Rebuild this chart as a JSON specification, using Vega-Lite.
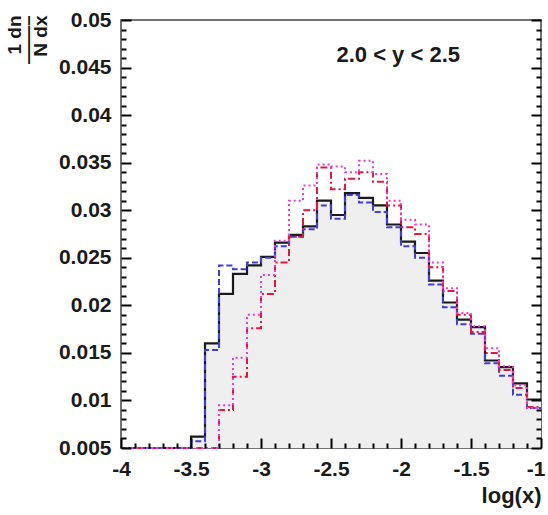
{
  "$schema": "https://vega.github.io/schema/vega-lite/v6.json",
  "width": 420,
  "height": 428,
  "autosize": {"type": "none"},
  "padding": {"left": 121, "top": 20, "right": 7, "bottom": 67},
  "background": "white",
  "config": {
    "view": {"stroke": "#444", "strokeWidth": 1.5},
    "font": "Liberation Sans",
    "axis": {"grid": false, "domain": false, "labelFont": "Liberation Sans", "labelFontSize": 21, "labelFontWeight": "bold", "labelColor": "#1a1a1a", "labelOverlap": false, "labelFlush": false}
  },
  "datasets": {
    "h": [
      {"x": -4.0, "k": 0.005, "b": 0.005, "r": 0.005, "m": 0.005},
      {"x": -3.9, "k": 0.005, "b": 0.005, "r": 0.005, "m": 0.005},
      {"x": -3.8, "k": 0.005, "b": 0.005, "r": 0.005, "m": 0.005},
      {"x": -3.7, "k": 0.005, "b": 0.005, "r": 0.005, "m": 0.005},
      {"x": -3.6, "k": 0.005, "b": 0.005, "r": 0.005, "m": 0.005},
      {"x": -3.5, "k": 0.0062, "b": 0.0057, "r": 0.005, "m": 0.005},
      {"x": -3.4, "k": 0.0160, "b": 0.0153, "r": 0.005, "m": 0.005},
      {"x": -3.3, "k": 0.0212, "b": 0.0242, "r": 0.0090, "m": 0.0095},
      {"x": -3.2, "k": 0.0233, "b": 0.0238, "r": 0.0125, "m": 0.0145},
      {"x": -3.1, "k": 0.0242, "b": 0.0245, "r": 0.0176, "m": 0.0190},
      {"x": -3.0, "k": 0.0251, "b": 0.0250, "r": 0.0212, "m": 0.0232},
      {"x": -2.9, "k": 0.0266, "b": 0.0262, "r": 0.0245, "m": 0.0268},
      {"x": -2.8, "k": 0.0274, "b": 0.0272, "r": 0.0272, "m": 0.0310},
      {"x": -2.7, "k": 0.0283, "b": 0.0280, "r": 0.0300, "m": 0.0326},
      {"x": -2.6, "k": 0.0310, "b": 0.0305, "r": 0.0345, "m": 0.0348},
      {"x": -2.5, "k": 0.0295, "b": 0.0291, "r": 0.0322, "m": 0.0346},
      {"x": -2.4, "k": 0.0318, "b": 0.0316, "r": 0.0333, "m": 0.0340},
      {"x": -2.3, "k": 0.0313, "b": 0.0308, "r": 0.0340, "m": 0.0352},
      {"x": -2.2, "k": 0.0305, "b": 0.0298, "r": 0.0330, "m": 0.0338},
      {"x": -2.1, "k": 0.0285, "b": 0.0282, "r": 0.0305, "m": 0.0310},
      {"x": -2.0, "k": 0.0267, "b": 0.0262, "r": 0.0282, "m": 0.0290},
      {"x": -1.9, "k": 0.0255, "b": 0.0250, "r": 0.0275, "m": 0.0285},
      {"x": -1.8, "k": 0.0226, "b": 0.0222, "r": 0.0240, "m": 0.0245},
      {"x": -1.7, "k": 0.0203, "b": 0.0198, "r": 0.0215, "m": 0.0218},
      {"x": -1.6, "k": 0.0185, "b": 0.0180, "r": 0.0190, "m": 0.0192},
      {"x": -1.5, "k": 0.0177, "b": 0.0170, "r": 0.0172, "m": 0.0178},
      {"x": -1.4, "k": 0.0142, "b": 0.0139, "r": 0.0150, "m": 0.0155},
      {"x": -1.3, "k": 0.0135, "b": 0.0126, "r": 0.0132, "m": 0.0136},
      {"x": -1.2, "k": 0.0118, "b": 0.0106, "r": 0.0113, "m": 0.0116},
      {"x": -1.1, "k": 0.0101, "b": 0.0092, "r": 0.0093, "m": 0.0092},
      {"x": -1.0, "k": 0.0101, "b": 0.0092, "r": 0.0093, "m": 0.0092}
    ]
  },
  "resolve": {"axis": {"x": "independent", "y": "independent"}},
  "layer": [
    {
      "data": {"name": "h"},
      "mark": {"type": "area", "interpolate": "step-after", "color": "#efefef"},
      "encoding": {
        "x": {"field": "x", "type": "quantitative",
          "scale": {"domain": [-4, -1], "nice": false, "zero": false},
          "axis": {
            "orient": "bottom", "zindex": 2,
            "values": [-4, -3.5, -3, -2.5, -2, -1.5, -1],
            "tickColor": "black", "tickWidth": 2,
            "offset": -10, "tickSize": 10,
            "labelPadding": 10,
            "labelExpr": "(datum.value < 0 ? '-' : '') + format(abs(datum.value), '~g')",
            "labelAlign": {"condition": {"test": "datum.value > -1.05", "value": "right"}, "value": "center"},
            "labelOffset": {"condition": {"test": "datum.value > -1.05", "value": 4}, "value": 0},
            "title": "log(x)", "titleAnchor": "end", "titleFont": "Liberation Sans", "titleColor": "#1a1a1a", "titleFontSize": 22, "titleFontWeight": "bold", "titlePadding": 6
          }},
        "y": {"field": "k", "type": "quantitative",
          "scale": {"domain": [0.005, 0.05], "nice": false, "zero": false},
          "axis": {
            "orient": "left", "zindex": 2,
            "values": [0.005, 0.01, 0.015, 0.02, 0.025, 0.03, 0.035, 0.04, 0.045, 0.05],
            "tickColor": "black", "tickWidth": 2,
            "offset": -10, "tickSize": 10,
            "labelPadding": 10,
            "labelExpr": "format(datum.value, '.3~f')",
            "title": ["1 dn", "——–", "N dx"],
            "titleFont": "Liberation Sans", "titleColor": "#1a1a1a",
            "titleFontSize": 19, "titleFontWeight": "bold", "titleLineHeight": 13,
            "titleAngle": 270, "titleAlign": "right", "titleBaseline": "middle",
            "titleX": -117, "titleY": -5
          }},
        "y2": {"datum": 0.005}
      }
    },
    {
      "data": {"name": "h"},
      "mark": {"type": "line", "interpolate": "step-after", "color": "#1a1a1a", "strokeWidth": 2.2},
      "encoding": {
        "x": {"field": "x", "type": "quantitative",
          "axis": {
            "orient": "bottom", "zindex": 2,
            "values": [-3.9, -3.8, -3.7, -3.6, -3.4, -3.3, -3.2, -3.1, -2.9, -2.8, -2.7, -2.6, -2.4, -2.3, -2.2, -2.1, -1.9, -1.8, -1.7, -1.6, -1.4, -1.3, -1.2, -1.1],
            "tickColor": "black", "tickWidth": 2,
            "offset": -5, "tickSize": 5, "labels": false, "title": null
          }},
        "y": {"field": "k", "type": "quantitative",
          "axis": {
            "orient": "left", "zindex": 2,
            "values": [0.006, 0.007, 0.008, 0.009, 0.011, 0.012, 0.013, 0.014, 0.016, 0.017, 0.018, 0.019, 0.021, 0.022, 0.023, 0.024, 0.026, 0.027, 0.028, 0.029, 0.031, 0.032, 0.033, 0.034, 0.036, 0.037, 0.038, 0.039, 0.041, 0.042, 0.043, 0.044, 0.046, 0.047, 0.048, 0.049],
            "tickColor": "black", "tickWidth": 2,
            "offset": -5, "tickSize": 5, "labels": false, "title": null
          }}
      }
    },
    {
      "data": {"name": "h"},
      "mark": {"type": "line", "interpolate": "step-after", "color": "#3f3fd2", "strokeWidth": 2, "strokeDash": [6, 3]},
      "encoding": {
        "x": {"field": "x", "type": "quantitative", "axis": null},
        "y": {"field": "b", "type": "quantitative",
          "axis": {
            "orient": "right", "zindex": 2,
            "values": [0.005, 0.01, 0.015, 0.02, 0.025, 0.03, 0.035, 0.04, 0.045, 0.05],
            "tickColor": "black", "tickWidth": 2,
            "offset": -10, "tickSize": 10, "labels": false, "title": null
          }}
      }
    },
    {
      "data": {"name": "h"},
      "mark": {"type": "line", "interpolate": "step-after", "color": "#e0183f", "strokeWidth": 2, "strokeDash": [7, 3, 2, 3]},
      "encoding": {
        "x": {"field": "x", "type": "quantitative", "axis": null},
        "y": {"field": "r", "type": "quantitative",
          "axis": {
            "orient": "right", "zindex": 2,
            "values": [0.006, 0.007, 0.008, 0.009, 0.011, 0.012, 0.013, 0.014, 0.016, 0.017, 0.018, 0.019, 0.021, 0.022, 0.023, 0.024, 0.026, 0.027, 0.028, 0.029, 0.031, 0.032, 0.033, 0.034, 0.036, 0.037, 0.038, 0.039, 0.041, 0.042, 0.043, 0.044, 0.046, 0.047, 0.048, 0.049],
            "tickColor": "black", "tickWidth": 2,
            "offset": -5, "tickSize": 5, "labels": false, "title": null
          }}
      }
    },
    {
      "data": {"name": "h"},
      "mark": {"type": "line", "interpolate": "step-after", "color": "#f23ad8", "strokeWidth": 2, "strokeDash": [2, 3]},
      "encoding": {
        "x": {"field": "x", "type": "quantitative", "axis": null},
        "y": {"field": "m", "type": "quantitative", "axis": null}
      }
    },
    {
      "data": {"values": [{"x": -2.02, "y": 0.0463, "t": "2.0 < y < 2.5"}]},
      "mark": {"type": "text", "font": "Liberation Sans", "fontSize": 22, "fontWeight": "bold", "color": "#1a1a1a", "align": "center", "baseline": "middle"},
      "encoding": {
        "x": {"field": "x", "type": "quantitative", "axis": null},
        "y": {"field": "y", "type": "quantitative", "axis": null},
        "text": {"field": "t"}
      }
    }
  ]
}
